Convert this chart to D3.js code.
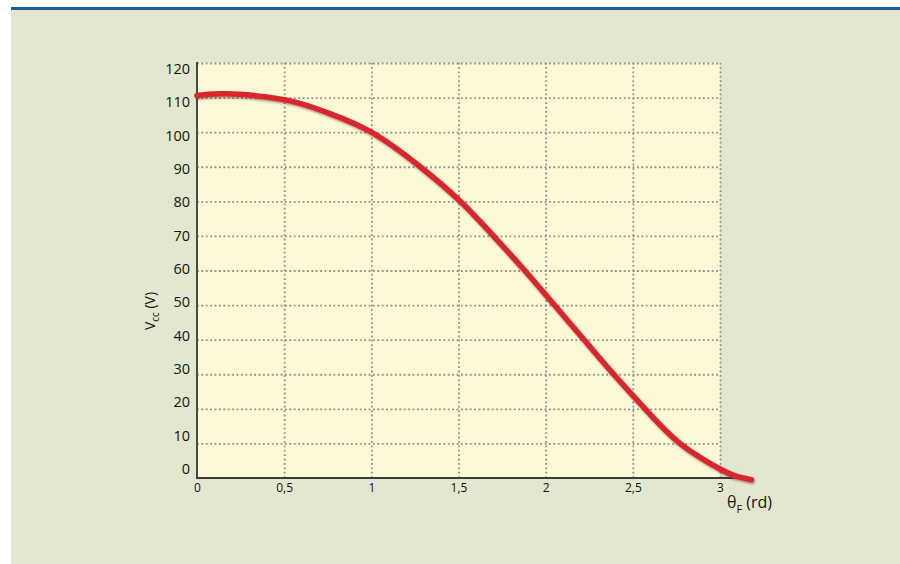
<!DOCTYPE html>
<html>
<head>
<meta charset="utf-8">
<script src="https://cdn.jsdelivr.net/npm/d3@7"></script>
<style>
    body { margin: 0; background: #ffffff; }
    svg { display: block; font-family: "Open Sans", "Noto Sans", sans-serif; }
</style>
</head>
<body>
<svg id="vis1" width="900" height="564"></svg>
<script>
// curve: theta (rd) -> Vcc (V)
var theta = [0, 0.17, 0.5, 0.75, 1.0, 1.28, 1.51, 1.7, 1.88, 2.05, 2.22, 2.39, 2.57, 2.77, 3.0, 3.1, 3.18];
var vcc   = [110.6, 111.1, 109.4, 105.6, 100, 90, 80, 70, 60, 50, 40, 30, 20, 10, 2.6, 0.4, -0.5];

var xTicks = [0, 0.5, 1, 1.5, 2, 2.5, 3];
var xTickLabels = ["0", "0,5", "1", "1,5", "2", "2,5", "3"];
var yTicks = [0, 10, 20, 30, 40, 50, 60, 70, 80, 90, 100, 110, 120];

var svg = d3.select("svg#vis1");

// panel background + blue rule on top
svg.append("rect")
    .attr("x", 11).attr("y", 10)
    .attr("width", 889).attr("height", 554)
    .style("fill", "#e3e7cf");
svg.append("rect")
    .attr("x", 11).attr("y", 7)
    .attr("width", 889).attr("height", 3)
    .style("fill", "#1d5c9d");

let margin = {
    left:   197,
    right:  720,
    top:    63,
    bottom: 478
};

let xScale = d3.scaleLinear()
    .domain([0, 3])
    .range([margin.left, margin.right]);

// grid lines and tick labels do not sit on the same spacing in the original
let yScale = d3.scaleLinear()
    .domain([0, 120])
    .range([margin.bottom, margin.top]);
let yLabelScale = d3.scaleLinear()
    .domain([0, 120])
    .range([469, 69]);

let plotWidth = margin.right - margin.left;
let plotHeight = margin.bottom - margin.top;

// plot background
svg.append("rect")
    .attr("x", margin.left).attr("y", margin.top)
    .attr("width", plotWidth).attr("height", plotHeight)
    .style("fill", "#fcfad6");

let plot = svg.append("g").attr("id", "plot");

// dotted grid
var hGrid = d3.axisLeft(yScale)
    .tickValues(yTicks.filter(function (d) { return d > 0; }))
    .tickFormat("")
    .tickSize(-plotWidth);
plot.append("g")
    .attr("id", "h-grid")
    .attr("transform", "translate(" + margin.left + ",0)")
    .call(hGrid)
    .call(function (g) { g.select(".domain").remove(); });

var vGrid = d3.axisBottom(xScale)
    .tickValues(xTicks.filter(function (d) { return d > 0; }))
    .tickFormat("")
    .tickSize(-plotHeight);
plot.append("g")
    .attr("id", "v-grid")
    .attr("transform", "translate(0," + margin.bottom + ")")
    .call(vGrid)
    .call(function (g) { g.select(".domain").remove(); });

plot.selectAll("#h-grid line, #v-grid line")
    .style("stroke", "#8f8f8f")
    .style("stroke-width", 1.8)
    .style("stroke-dasharray", "1.8,2.6");

// axis lines
plot.append("line")
    .attr("x1", margin.left).attr("x2", margin.left)
    .attr("y1", margin.top - 1).attr("y2", margin.bottom + 1)
    .style("stroke", "#4a4a48")
    .style("stroke-width", 2);
plot.append("line")
    .attr("x1", margin.left - 1).attr("x2", xScale(3.17))
    .attr("y1", margin.bottom).attr("y2", margin.bottom)
    .style("stroke", "#3a3a38")
    .style("stroke-width", 2);

// tick labels
var yAxis = d3.axisLeft(yLabelScale)
    .tickValues(yTicks)
    .tickSize(0)
    .tickPadding(0);
plot.append("g")
    .attr("id", "y-axis")
    .attr("transform", "translate(190,0)")
    .call(yAxis)
    .call(function (g) { g.select(".domain").remove(); })
    .selectAll("text")
    .style("font-family", "'Open Sans', sans-serif")
    .style("font-size", "14.5px")
    .style("fill", "#141414");

var xAxis = d3.axisBottom(xScale)
    .tickValues(xTicks)
    .tickFormat(function (d, i) { return xTickLabels[i]; })
    .tickSize(0)
    .tickPadding(5);
plot.append("g")
    .attr("id", "x-axis")
    .attr("transform", "translate(0," + margin.bottom + ")")
    .call(xAxis)
    .call(function (g) { g.select(".domain").remove(); })
    .selectAll("text")
    .style("font-family", "'Open Sans', sans-serif")
    .style("font-size", "12px")
    .style("fill", "#141414");

// shadow for the curve
var defs = svg.append("defs");
var filter = defs.append("filter")
    .attr("id", "shadow")
    .attr("x", "-10%").attr("y", "-10%")
    .attr("width", "120%").attr("height", "120%");
filter.append("feDropShadow")
    .attr("dx", 1).attr("dy", 1.5)
    .attr("stdDeviation", 1.2)
    .attr("flood-color", "#3a1010")
    .attr("flood-opacity", 0.45);

var line = d3.line()
    .x(function (d, i) { return xScale(theta[i]); })
    .y(function (d) { return yScale(d); })
    .curve(d3.curveNatural);

plot.append("path")
    .datum(vcc)
    .attr("d", line)
    .attr("filter", "url(#shadow)")
    .style("fill", "none")
    .style("stroke", "#d7272f")
    .style("stroke-width", 5.5)
    .style("stroke-linecap", "round");

// axis titles
var xTitle = svg.append("text")
    .attr("x", 727)
    .attr("y", 508)
    .style("font-size", "16px")
    .style("fill", "#141414");
xTitle.append("tspan").text("θ");
xTitle.append("tspan").attr("dy", 5).style("font-size", "11px").text("F");
xTitle.append("tspan").attr("dy", -5).text(" (rd)");

var yTitle = svg.append("text")
    .attr("transform", "translate(155,311) rotate(-90)")
    .style("text-anchor", "middle")
    .style("font-size", "14px")
    .style("fill", "#141414");
yTitle.append("tspan").text("V");
yTitle.append("tspan").attr("dy", 4).style("font-size", "10px").text("cc");
yTitle.append("tspan").attr("dy", -4).text(" (V)");
</script>
</body>
</html>
